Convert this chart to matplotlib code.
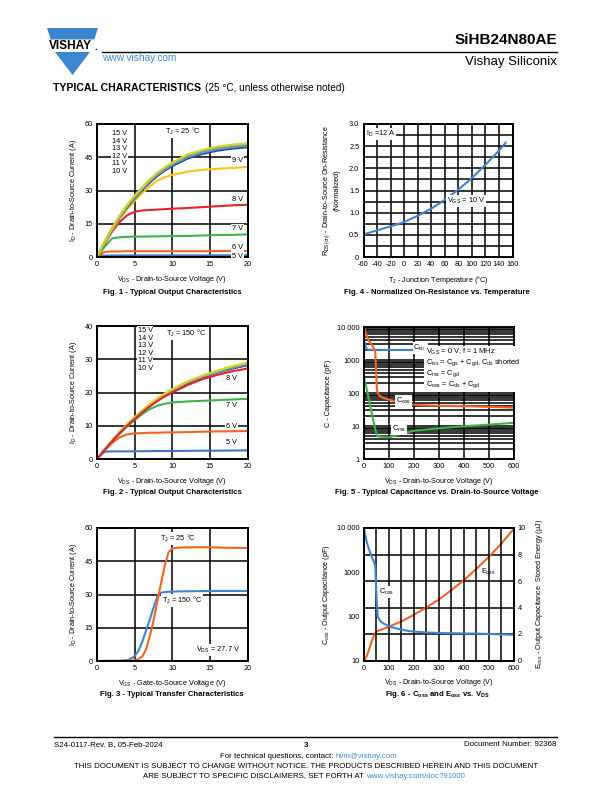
import matplotlib
matplotlib.use('Agg')
import matplotlib.pyplot as plt
import numpy as np
from matplotlib.patches import Polygon, Rectangle
from matplotlib.ticker import FixedLocator, FixedFormatter, NullFormatter

plt.rcParams['font.family'] = ['Liberation Sans', 'DejaVu Sans']
plt.rcParams['mathtext.fontset'] = 'custom'
plt.rcParams['mathtext.rm'] = 'Liberation Sans'
plt.rcParams['mathtext.default'] = 'regular'
plt.rcParams['axes.unicode_minus'] = False

# ---------------- data ----------------
# Fig 1: output characteristics, TJ = 25 C
f1_vds = [0, 1, 2, 3, 4, 5, 6, 7, 8, 9, 10, 12, 14, 16, 18, 20]
f1_top = {
    '15 V': [0, 6.8, 13.0, 18.6, 23.5, 27.6, 31.4, 35.0, 38.0, 40.5, 42.6, 46.2, 48.3, 49.8, 50.7, 51.3],
    '14 V': [0, 6.7, 12.9, 18.4, 23.3, 27.4, 31.2, 34.7, 37.7, 40.2, 42.3, 45.9, 48.0, 49.5, 50.4, 51.0],
    '13 V': [0, 6.7, 12.8, 18.3, 23.1, 27.2, 31.0, 34.5, 37.5, 40.0, 42.1, 45.6, 47.8, 49.2, 50.1, 50.7],
    '12 V': [0, 6.6, 12.7, 18.1, 22.9, 27.0, 30.7, 34.2, 37.2, 39.7, 41.8, 45.3, 47.4, 48.9, 49.8, 50.4],
    '11 V': [0, 6.6, 12.6, 18.0, 22.7, 26.7, 30.4, 33.9, 36.9, 39.4, 41.4, 44.9, 47.0, 48.5, 49.4, 50.0],
    '10 V': [0, 6.5, 12.5, 17.8, 22.4, 26.4, 30.1, 33.5, 36.5, 39.0, 41.0, 44.4, 46.5, 48.0, 48.9, 49.5],
}
f1_9v = [0, 6.3, 12.0, 17.2, 21.5, 25.3, 28.8, 31.8, 34.4, 36.0, 37.0, 38.5, 39.3, 39.8, 40.2, 40.6]
f1_8v = [0, 5.9, 11.4, 15.8, 18.8, 20.4, 21.0, 21.2, 21.4, 21.6, 21.8, 22.1, 22.5, 22.9, 23.3, 23.6]
f1_7v = [0, 4.5, 8.4, 8.9, 9.1, 9.2, 9.2, 9.3, 9.3, 9.4, 9.4, 9.5, 9.7, 9.9, 10.0, 10.2]
f1_6v = [0, 2.3, 2.5, 2.5, 2.6, 2.6, 2.6, 2.6, 2.6, 2.6, 2.6, 2.6, 2.6, 2.7, 2.7, 2.7]
f1_5v = [0, 0.4, 0.45, 0.5, 0.5, 0.5, 0.5, 0.5, 0.5, 0.5, 0.5, 0.5, 0.5, 0.55, 0.55, 0.6]

# Fig 2: output characteristics, TJ = 150 C
f2_vds = [0, 1, 2, 3, 4, 5, 6, 7, 8, 9, 10, 12, 14, 16, 18, 20]
f2_top = {
    '15 V': [0, 2.8, 5.5, 8.1, 10.4, 12.6, 14.6, 16.5, 18.2, 19.7, 21.0, 23.3, 25.1, 26.6, 27.9, 29.0],
    '14 V': [0, 2.8, 5.5, 8.0, 10.3, 12.5, 14.5, 16.4, 18.1, 19.6, 20.9, 23.2, 25.0, 26.5, 27.8, 28.8],
    '13 V': [0, 2.8, 5.4, 8.0, 10.3, 12.4, 14.4, 16.3, 18.0, 19.5, 20.8, 23.1, 24.9, 26.4, 27.6, 28.6],
    '12 V': [0, 2.7, 5.4, 7.9, 10.2, 12.4, 14.4, 16.2, 17.9, 19.4, 20.7, 23.0, 24.8, 26.2, 27.5, 28.5],
    '11 V': [0, 2.7, 5.4, 7.9, 10.2, 12.3, 14.3, 16.1, 17.8, 19.3, 20.6, 22.9, 24.7, 26.1, 27.4, 28.4],
    '10 V': [0, 2.7, 5.3, 7.8, 10.1, 12.2, 14.2, 16.0, 17.7, 19.2, 20.5, 22.7, 24.5, 26.0, 27.2, 28.2],
}
f2_8v = [0, 2.7, 5.3, 7.8, 10.0, 12.0, 14.0, 15.8, 17.4, 18.8, 20.0, 22.2, 24.0, 25.3, 26.4, 27.2]
f2_7v = [0, 2.7, 5.2, 7.6, 9.8, 11.7, 13.5, 15.0, 16.0, 16.6, 17.0, 17.3, 17.5, 17.7, 17.9, 18.1]
f2_6v = [0, 2.6, 4.8, 6.5, 7.4, 7.7, 7.8, 7.9, 7.9, 8.0, 8.0, 8.1, 8.2, 8.3, 8.35, 8.4]
f2_5v = [0, 2.2, 2.3, 2.3, 2.3, 2.3, 2.35, 2.35, 2.4, 2.4, 2.4, 2.45, 2.5, 2.5, 2.55, 2.6]

# Fig 3: transfer characteristics (VDS = 27.7 V)
f3_vgs = [0, 3, 4, 4.5, 5, 5.5, 6, 6.5, 7, 7.5, 8, 8.5, 9, 9.5, 10, 11, 13, 15, 17, 20]
f3_25c = [0, 0.05, 0.1, 0.2, 0.3, 0.8, 2.0, 5.0, 11.0, 18.0, 26.5, 35.0, 43.0, 49.0, 50.8, 51.2, 51.3, 51.3, 51.1, 51.0]
f3_150c = [0, 0.1, 0.4, 1.0, 2.2, 4.5, 8.5, 13.5, 18.5, 24.0, 29.0, 30.8, 31.1, 31.2, 31.3, 31.4, 31.5, 31.6, 31.6, 31.6]

# Fig 4: normalized on-resistance vs temperature
f4_tj = [-60, -40, -20, 0, 20, 40, 60, 80, 100, 120, 140, 150]
f4_r = [0.51, 0.60, 0.69, 0.79, 0.93, 1.09, 1.29, 1.52, 1.78, 2.08, 2.40, 2.58]

# Fig 5: capacitance vs VDS
f5_v_iss = [0, 5, 10, 15, 50, 100, 200, 300, 400, 500, 600]
f5_ciss = [3900, 2800, 2200, 2050, 2030, 2020, 2010, 2000, 1990, 1980, 1970]
f5_v_oss = [0, 10, 20, 30, 40, 45, 48, 52, 60, 80, 100, 130, 200, 300, 400, 500, 600]
f5_coss = [9500, 5500, 3800, 3000, 2200, 1800, 600, 120, 85, 70, 63, 55, 44, 41, 40, 38, 36]
f5_v_rss = [0, 10, 20, 30, 40, 52, 70, 100, 150, 200, 300, 400, 500, 600]
f5_crss = [300, 140, 62, 27, 12, 4.9, 4.7, 4.5, 5.8, 7.2, 8.5, 9.8, 11.0, 12.5]

# Fig 6: Coss and Eoss vs VDS
f6_v_c = [0, 5, 10, 20, 30, 40, 45, 50, 55, 65, 80, 105, 150, 185, 250, 300, 400, 500, 600]
f6_coss = [9700, 7000, 5000, 3300, 2300, 1700, 1400, 300, 100, 78, 68, 58, 50, 46, 43, 42, 41, 40, 38]
f6_v_e = [0, 10, 20, 30, 40, 50, 100, 150, 200, 250, 300, 350, 400, 450, 500, 550, 600]
f6_eoss = [0, 0.3, 0.8, 1.4, 1.9, 2.2, 2.55, 2.95, 3.45, 4.0, 4.6, 5.3, 6.05, 6.9, 7.8, 8.8, 9.9]

c_top = {'15 V': '#d2d62a', '14 V': '#a6a660', '13 V': '#808080',
         '12 V': '#5db2e8', '11 V': '#3b78c6', '10 V': '#22408c'}
C_YEL = '#ffc20e'
C_RED = '#e8212b'
C_GRN = '#3cb44a'
C_ORG = '#f7631e'
C_BLU = '#3a78c6'
C_BLU2 = '#3d85d2'

# ---------------- figure ----------------
W, H = 612, 792
fig = plt.figure(figsize=(6.12, 7.92), dpi=100)
bg = fig.add_axes([0, 0, 1, 1])
bg.set_xlim(0, W)
bg.set_ylim(H, 0)
bg.axis('off')

TS = 5.3  # tick label size
LS = 5.2  # axis label size


def ax_at(x0, y0, x1, y1):
    return fig.add_axes([x0 / W, 1 - y1 / H, (x1 - x0) / W, (y1 - y0) / H])


def style(ax):
    for s in ax.spines.values():
        s.set_linewidth(1.4)
        s.set_color('black')
    ax.tick_params(which='both', labelsize=TS, length=0, pad=3)
    ax.grid(True, which='both', color='black', linewidth=1.1)
    ax.set_axisbelow(True)


WB = dict(facecolor='white', edgecolor='none', pad=0.6)
LW = 1.5

# ---- Header ----
blue_logo = '#3d86cf'
bg.add_patch(Polygon([[47, 28], [98, 28], [94.3, 39.5], [50.7, 39.5]], closed=True, color=blue_logo, lw=0))
bg.add_patch(Polygon([[55.0, 52], [90.0, 52], [72.5, 75]], closed=True, color=blue_logo, lw=0))
bg.text(70.5, 45.8, 'VISHAY', fontsize=8.6, fontweight='bold', ha='center', va='center', color='black')
bg.text(95.5, 47.5, '.', fontsize=7, fontweight='bold', ha='center', va='center', color='black')
bg.plot([102, 557], [52, 52], color='black', lw=1.0)
bg.text(557, 47, 'SiHB24N80AE', fontsize=11, fontweight='bold', ha='right', va='bottom')
bg.text(102, 58, 'www.vishay.com', fontsize=7.3, color='#3a8fd9', ha='left', va='center')
bg.text(557, 62, 'Vishay Siliconix', fontsize=9.5, ha='right', va='center')
bg.text(53, 88, 'TYPICAL CHARACTERISTICS', fontsize=7.6, fontweight='bold', ha='left', va='center')
bg.text(205, 88, '(25 °C, unless otherwise noted)', fontsize=7.2, ha='left', va='center')

# ---- Footer ----
FS = 5.7
bg.plot([54, 557], [737, 737], color='black', lw=1.0)
bg.text(54, 745, 'S24-0117-Rev. B, 05-Feb-2024', fontsize=FS, ha='left', va='center')
bg.text(306, 745.5, '3', fontsize=FS, fontweight='bold', ha='center', va='center')
bg.text(557, 745, 'Document Number: 92368', fontsize=FS, ha='right', va='center')
bg.text(336, 756, 'For technical questions, contact: ', fontsize=FS, ha='right', va='center')
bg.text(336, 756, 'hvm@vishay.com', fontsize=FS, ha='left', va='center', color='#3a8fd9')
bg.text(306, 767, 'THIS DOCUMENT IS SUBJECT TO CHANGE WITHOUT NOTICE. THE PRODUCTS DESCRIBED HEREIN AND THIS DOCUMENT',
        fontsize=FS, ha='center', va='center')
bg.text(366, 776, 'ARE SUBJECT TO SPECIFIC DISCLAIMERS, SET FORTH AT ', fontsize=FS, ha='right', va='center')
bg.text(366, 776, 'www.vishay.com/doc?91000', fontsize=FS, ha='left', va='center', color='#3a8fd9')

# ---- Captions ----
CS = 5.6
bg.text(172, 292, 'Fig. 1 - Typical Output Characteristics', fontsize=CS, fontweight='bold', ha='center', va='center')
bg.text(437, 292, 'Fig. 4 - Normalized On-Resistance vs. Temperature', fontsize=CS, fontweight='bold', ha='center', va='center')
bg.text(172, 492, 'Fig. 2 - Typical Output Characteristics', fontsize=CS, fontweight='bold', ha='center', va='center')
bg.text(437, 492, 'Fig. 5 - Typical Capacitance vs. Drain-to-Source Voltage', fontsize=CS, fontweight='bold', ha='center', va='center')
bg.text(172, 695, 'Fig. 3 - Typical Transfer Characteristics', fontsize=CS, fontweight='bold', ha='center', va='center')
bg.text(437, 695, 'Fig. 6 - C$_{oss}$ and E$_{oss}$ vs. V$_{DS}$', fontsize=CS, fontweight='bold', ha='center', va='center')

XL_VDS = 'V$_{DS}$ - Drain-to-Source Voltage (V)'
YL_ID = 'I$_{D}$ - Drain-to-Source Current (A)'

# ---- Fig 1 ----
ax1 = ax_at(97, 124, 247.5, 257)
style(ax1)
ax1.set_xlim(0, 20)
ax1.set_ylim(0, 60)
ax1.xaxis.set_major_locator(FixedLocator([0, 5, 10, 15, 20]))
ax1.yaxis.set_major_locator(FixedLocator([0, 15, 30, 45, 60]))
ax1.plot(f1_vds, f1_5v, color=C_BLU, lw=2.2)
ax1.plot(f1_vds, f1_6v, color=C_ORG, lw=LW)
ax1.plot(f1_vds, f1_7v, color=C_GRN, lw=LW)
ax1.plot(f1_vds, f1_8v, color=C_RED, lw=LW)
ax1.plot(f1_vds, f1_9v, color=C_YEL, lw=LW)
for k in ['10 V', '11 V', '12 V', '13 V', '14 V', '15 V']:
    ax1.plot(f1_vds, f1_top[k], color=c_top[k], lw=LW)
ax1.set_xlabel(XL_VDS, fontsize=LS, labelpad=4)
ax1.set_ylabel(YL_ID, fontsize=LS, labelpad=4)
for lab, y in zip(['15 V', '14 V', '13 V', '12 V', '11 V', '10 V'], [55.6, 52.2, 48.8, 45.3, 42.0, 38.7]):
    ax1.text(3.0, y, lab, fontsize=TS, ha='center', va='center', bbox=WB)
ax1.text(11.4, 56.5, 'T$_{J}$ = 25 °C', fontsize=TS, ha='center', va='center', bbox=WB)
for lab, y in zip(['9 V', '8 V', '7 V', '6 V', '5 V'], [43.4, 26.1, 13.0, 4.4, 0.3]):
    ax1.text(18.7, y, lab, fontsize=TS, ha='center', va='center', bbox=WB)

# ---- Fig 2 ----
ax2 = ax_at(97, 326, 247.5, 459)
style(ax2)
ax2.set_xlim(0, 20)
ax2.set_ylim(0, 40)
ax2.xaxis.set_major_locator(FixedLocator([0, 5, 10, 15, 20]))
ax2.yaxis.set_major_locator(FixedLocator([0, 10, 20, 30, 40]))
ax2.plot(f2_vds, f2_5v, color=C_BLU, lw=LW)
ax2.plot(f2_vds, f2_6v, color=C_ORG, lw=LW)
ax2.plot(f2_vds, f2_7v, color=C_GRN, lw=LW)
for k in ['10 V', '11 V', '12 V', '13 V', '14 V', '15 V']:
    ax2.plot(f2_vds, f2_top[k], color=c_top[k], lw=LW)
ax2.plot(f2_vds, f2_8v, color=C_RED, lw=LW)
ax2.set_xlabel(XL_VDS, fontsize=LS, labelpad=4)
ax2.set_ylabel(YL_ID, fontsize=LS, labelpad=4)
for lab, y in zip(['15 V', '14 V', '13 V', '12 V', '11 V', '10 V'], [38.6, 36.3, 34.0, 31.7, 29.5, 27.3]):
    ax2.text(6.4, y, lab, fontsize=TS, ha='center', va='center', bbox=WB)
ax2.text(11.9, 37.8, 'T$_{J}$ = 150 °C', fontsize=TS, ha='center', va='center', bbox=WB)
for lab, y in zip(['8 V', '7 V', '6 V', '5 V'], [24.3, 16.2, 9.9, 4.9]):
    ax2.text(17.9, y, lab, fontsize=TS, ha='center', va='center', bbox=WB)

# ---- Fig 3 ----
ax3 = ax_at(97, 528, 247.5, 661)
style(ax3)
ax3.set_xlim(0, 20)
ax3.set_ylim(0, 60)
ax3.xaxis.set_major_locator(FixedLocator([0, 5, 10, 15, 20]))
ax3.yaxis.set_major_locator(FixedLocator([0, 15, 30, 45, 60]))
ax3.plot(f3_vgs, f3_150c, color=C_BLU2, lw=LW)
ax3.plot(f3_vgs, f3_25c, color=C_ORG, lw=LW)
ax3.set_xlabel('V$_{GS}$ - Gate-to-Source Voltage (V)', fontsize=LS, labelpad=4)
ax3.set_ylabel(YL_ID, fontsize=LS, labelpad=4)
ax3.text(10.7, 55.2, 'T$_{J}$ = 25 °C', fontsize=TS, ha='center', va='center', bbox=WB)
ax3.text(11.3, 27.3, 'T$_{J}$ = 150 °C', fontsize=TS, ha='center', va='center', bbox=WB)
ax3.text(16.1, 5.0, 'V$_{DS}$ = 27.7 V', fontsize=TS, ha='center', va='center', bbox=WB)

# ---- Fig 4 ----
ax4 = ax_at(363.5, 124, 512.5, 257)
style(ax4)
ax4.set_xlim(-60, 160)
ax4.set_ylim(0, 3.0)
ax4.xaxis.set_major_locator(FixedLocator(list(range(-60, 161, 20))))
ax4.yaxis.set_major_locator(FixedLocator([0, 0.5, 1.0, 1.5, 2.0, 2.5, 3.0]))
ax4.yaxis.set_major_formatter(FixedFormatter(['0', '0.5', '1.0', '1.5', '2.0', '2.5', '3.0']))
ax4.yaxis.set_minor_locator(FixedLocator([0.25, 0.75, 1.25, 1.75, 2.25, 2.75]))
ax4.plot(f4_tj, f4_r, color=C_BLU2, lw=LW)
ax4.set_xlabel('T$_{J}$ - Junction Temperature (°C)', fontsize=LS, labelpad=4)
ax4.set_ylabel('R$_{DS(on)}$ - Drain-to-Source On-Resistance\n(Normalized)', fontsize=LS, labelpad=6,
               linespacing=1.3)
ax4.text(-57, 2.77, 'I$_{D}$ =12 A', fontsize=TS, ha='left', va='center', bbox=WB)
ax4.text(91, 1.27, 'V$_{GS}$ = 10 V', fontsize=TS, ha='center', va='center', bbox=WB)

# ---- Fig 5 ----
ax5 = ax_at(364, 327, 513.5, 459)
style(ax5)
ax5.set_yscale('log')
ax5.set_xlim(0, 600)
ax5.set_ylim(1, 10000)
ax5.xaxis.set_major_locator(FixedLocator([0, 100, 200, 300, 400, 500, 600]))
ax5.yaxis.set_major_locator(FixedLocator([1, 10, 100, 1000, 10000]))
ax5.yaxis.set_major_formatter(FixedFormatter(['1', '10', '100', '1000', '10 000']))
mins = [m * 10 ** d for d in range(0, 4) for m in range(2, 10)]
ax5.yaxis.set_minor_locator(FixedLocator(mins))
ax5.yaxis.set_minor_formatter(NullFormatter())
ax5.plot(f5_v_iss, f5_ciss, color=C_BLU2, lw=LW)
ax5.plot(f5_v_oss, f5_coss, color=C_ORG, lw=LW)
ax5.plot(f5_v_rss, f5_crss, color=C_GRN, lw=LW)
ax5.set_xlabel(XL_VDS, fontsize=LS, labelpad=4)
ax5.set_ylabel('C - Capacitance (pF)', fontsize=LS, labelpad=4)
ax5.text(225, 2250, 'C$_{iss}$', fontsize=TS, ha='center', va='center', bbox=WB)
ax5.text(160, 57, 'C$_{oss}$', fontsize=TS, ha='center', va='center', bbox=WB)
ax5.text(140, 8.2, 'C$_{rss}$', fontsize=TS, ha='center', va='center', bbox=WB)
ax5.text(248, 560, 'V$_{GS}$ = 0 V, f = 1 MHz\nC$_{iss}$ = C$_{gs}$ + C$_{gd}$, C$_{ds}$ shorted\n'
         'C$_{rss}$ = C$_{gd}$\nC$_{oss}$ = C$_{ds}$ + C$_{gd}$', fontsize=TS, ha='left', va='center',
         linespacing=1.05, bbox=dict(facecolor='white', edgecolor='none', pad=1.0))

# ---- Fig 6 ----
ax6 = ax_at(364, 528, 513.5, 660.5)
ax6r = ax6.twinx()
ax6.set_yscale('log')
ax6.set_xlim(0, 600)
ax6.set_ylim(10, 10000)
ax6.xaxis.set_major_locator(FixedLocator([0, 100, 200, 300, 400, 500, 600]))
ax6.xaxis.set_minor_locator(FixedLocator([50, 150, 250, 350, 450, 550]))
ax6.yaxis.set_major_locator(FixedLocator([10, 100, 1000, 10000]))
ax6.yaxis.set_major_formatter(FixedFormatter(['10', '100', '1000', '10 000']))
ax6.yaxis.set_minor_locator(FixedLocator([]))
ax6r.set_ylim(0, 10)
ax6r.yaxis.set_major_locator(FixedLocator([0, 2, 4, 6, 8, 10]))
for a in (ax6, ax6r):
    for s in a.spines.values():
        s.set_linewidth(1.4)
        s.set_color('black')
    a.tick_params(which='both', labelsize=TS, length=0, pad=3)
ax6.xaxis.grid(True, which='both', color='black', linewidth=1.1)
ax6r.yaxis.grid(True, color='black', linewidth=1.1)
ax6.set_axisbelow(True)
ax6r.set_axisbelow(True)
ax6r.plot(f6_v_e, f6_eoss, color=C_ORG, lw=LW)
ax6.set_zorder(ax6r.get_zorder() + 1)
ax6.patch.set_visible(False)
ax6.plot(f6_v_c, f6_coss, color=C_BLU2, lw=LW)
ax6.set_xlabel(XL_VDS, fontsize=LS, labelpad=4)
ax6.set_ylabel('C$_{oss}$ - Output Capacitance (pF)', fontsize=LS, labelpad=4)
ax6r.set_ylabel('E$_{oss}$ - Output Capacitance  Stored Energy (µJ)', fontsize=LS, labelpad=6)
ax6.text(90, 355, 'C$_{oss}$', fontsize=TS, ha='center', va='center', bbox=WB)
ax6r.text(498, 6.7, 'E$_{oss}$', fontsize=TS, ha='center', va='center', bbox=WB)

fig.savefig('out.png', dpi=100)
